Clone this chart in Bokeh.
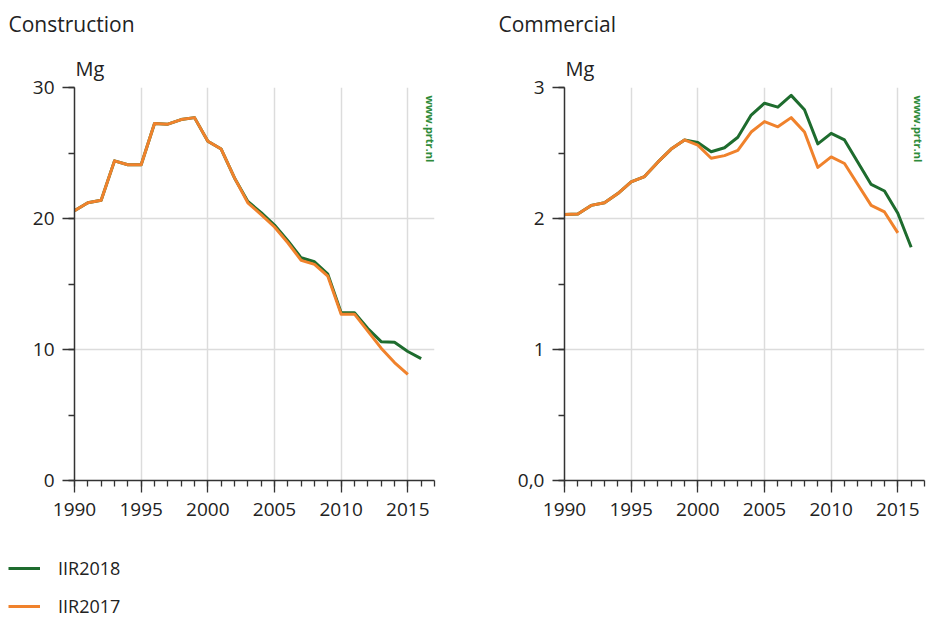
import math
from bokeh.plotting import figure
from bokeh.models import (Label, FixedTicker, Legend, LegendItem, Range1d, ColumnDataSource, Title)
from bokeh.layouts import column, row
from bokeh.embed import file_html
from bokeh.resources import INLINE

# ---------------- data ----------------
years_2017 = list(range(1990, 2016))
years_2018 = list(range(1990, 2017))

construction_2017 = [20.6, 21.2, 21.4, 24.4, 24.1, 24.1, 27.25, 27.2, 27.55, 27.7,
                     25.9, 25.3, 23.1, 21.2, 20.3, 19.35, 18.15, 16.8, 16.5, 15.6,
                     12.7, 12.7, 11.4, 10.1, 9.0, 8.1]
construction_2018 = [20.6, 21.2, 21.4, 24.4, 24.1, 24.1, 27.25, 27.2, 27.55, 27.7,
                     25.9, 25.3, 23.1, 21.3, 20.45, 19.5, 18.3, 17.0, 16.7, 15.75,
                     12.8, 12.8, 11.6, 10.6, 10.55, 9.85, 9.3]

commercial_2017 = [2.03, 2.035, 2.10, 2.12, 2.19, 2.28, 2.32, 2.43, 2.53, 2.60,
                   2.56, 2.46, 2.48, 2.52, 2.66, 2.74, 2.70, 2.77, 2.66, 2.39,
                   2.47, 2.42, 2.26, 2.10, 2.05, 1.89]
commercial_2018 = [2.03, 2.035, 2.10, 2.12, 2.19, 2.28, 2.32, 2.43, 2.53, 2.60,
                   2.58, 2.51, 2.54, 2.62, 2.79, 2.88, 2.85, 2.94, 2.83, 2.57,
                   2.65, 2.60, 2.43, 2.26, 2.21, 2.04, 1.78]

x_major = [1990, 1995, 2000, 2005, 2010, 2015]
x_minor = list(range(1990, 2018))
construction_ticks = [0, 10, 20, 30]
construction_minor = [0, 5, 10, 15, 20, 25, 30]
construction_labels = {0: "0", 10: "10", 20: "20", 30: "30"}
commercial_ticks = [0, 1, 2, 3]
commercial_minor = [0, 0.5, 1, 1.5, 2, 2.5, 3]
commercial_labels = {0: "0,0", 1: "1", 2: "2", 3: "3"}

series_names = ["IIR2018", "IIR2017"]
GREEN = "#1e6c2e"
ORANGE = "#f0822c"
FONT = "Open Sans"
TXT = "#222222"


def make_panel(title, ymax, yticks, yminor, ylabels, y2018, y2017, width, left, right, wm_off):
    p = figure(width=width, height=525, output_backend="svg", toolbar_location=None,
               x_range=Range1d(1990, 2017), y_range=Range1d(0, ymax),
               min_border_left=left, min_border_right=right, min_border_top=87,
               min_border_bottom=45)
    p.outline_line_color = None
    p.background_fill_color = "white"
    p.border_fill_color = "white"

    for ax in (p.xaxis[0], p.yaxis[0]):
        ax.axis_line_color = "#333333"
        ax.axis_line_width = 1.5
        ax.major_tick_line_color = "#333333"
        ax.minor_tick_line_color = "#333333"
        ax.major_tick_line_width = 1.3
        ax.minor_tick_line_width = 1.3
        ax.major_label_text_font = FONT
        ax.major_label_text_font_size = "19px"
        ax.major_label_text_color = TXT
        ax.major_tick_in = 0
        ax.minor_tick_in = 0

    p.xaxis[0].ticker = FixedTicker(ticks=x_major, minor_ticks=x_minor)
    p.xaxis[0].major_tick_out = 12
    p.xaxis[0].minor_tick_out = 6
    p.xaxis[0].major_label_standoff = 10

    p.yaxis[0].ticker = FixedTicker(ticks=yticks, minor_ticks=yminor)
    p.yaxis[0].major_label_overrides = ylabels
    p.yaxis[0].major_tick_out = 12
    p.yaxis[0].minor_tick_out = 6
    p.yaxis[0].major_label_standoff = 8

    p.xgrid.grid_line_color = "#dcdcdc"
    p.xgrid.grid_line_width = 1.5
    p.ygrid.grid_line_color = "#dcdcdc"
    p.ygrid.grid_line_width = 1.5

    s18 = ColumnDataSource(dict(x=years_2018, y=y2018))
    s17 = ColumnDataSource(dict(x=years_2017, y=y2017))
    r18 = p.line("x", "y", source=s18, line_color=GREEN, line_width=3, line_join="round")
    r17 = p.line("x", "y", source=s17, line_color=ORANGE, line_width=3, line_join="round")

    # unit (nearest the frame) and panel title
    p.add_layout(Title(text="Mg", text_font=FONT, text_font_size="20px",
                       text_font_style="normal", text_color=TXT, align="left",
                       offset=1, standoff=12), "above")
    p.add_layout(Title(text=title, text_font=FONT, text_font_size="21px",
                       text_font_style="normal", text_color=TXT, align="left",
                       vertical_align="middle",
                       offset=-(left - 8), standoff=16), "above")
    # watermark
    p.add_layout(Label(x=2017, y=ymax, x_offset=wm_off, y_offset=-8,
                       text="www.prtr.nl", text_font=FONT, text_font_size="11px",
                       text_font_style="bold", text_color="#2e8b3a",
                       angle=-math.pi / 2, text_baseline="middle", text_align="left"))
    return p, r18, r17


p1, _, _ = make_panel("Construction", 30, construction_ticks, construction_minor, construction_labels,
                      construction_2018, construction_2017, width=490, left=74, right=56, wm_off=-4)
p2, _, _ = make_panel("Commercial", 3, commercial_ticks, commercial_minor, commercial_labels,
                      commercial_2018, commercial_2017, width=436, left=74, right=2, wm_off=-6)

# legend panel
p3 = figure(width=300, height=92, output_backend="svg", toolbar_location=None,
            x_range=Range1d(0, 1), y_range=Range1d(0, 1),
            min_border=0)
p3.axis.visible = False
p3.grid.visible = False
p3.outline_line_color = None
l18 = p3.line(x=years_2018, y=construction_2018, line_color=GREEN, line_width=3)
l17 = p3.line(x=years_2017, y=construction_2017, line_color=ORANGE, line_width=3)
legend = Legend(items=[LegendItem(label=series_names[0], renderers=[l18]),
                       LegendItem(label=series_names[1], renderers=[l17])],
                location=(8, -1), orientation="vertical",
                label_text_font=FONT, label_text_font_size="18px",
                label_text_color=TXT, glyph_width=32, glyph_height=22,
                label_height=22, label_standoff=18, spacing=14,
                padding=0, margin=0, border_line_color=None,
                background_fill_alpha=0)
p3.add_layout(legend)

layout = column(row(p1, p2, spacing=0), p3, spacing=0)
open("out.html", "w").write(file_html(layout, INLINE))
